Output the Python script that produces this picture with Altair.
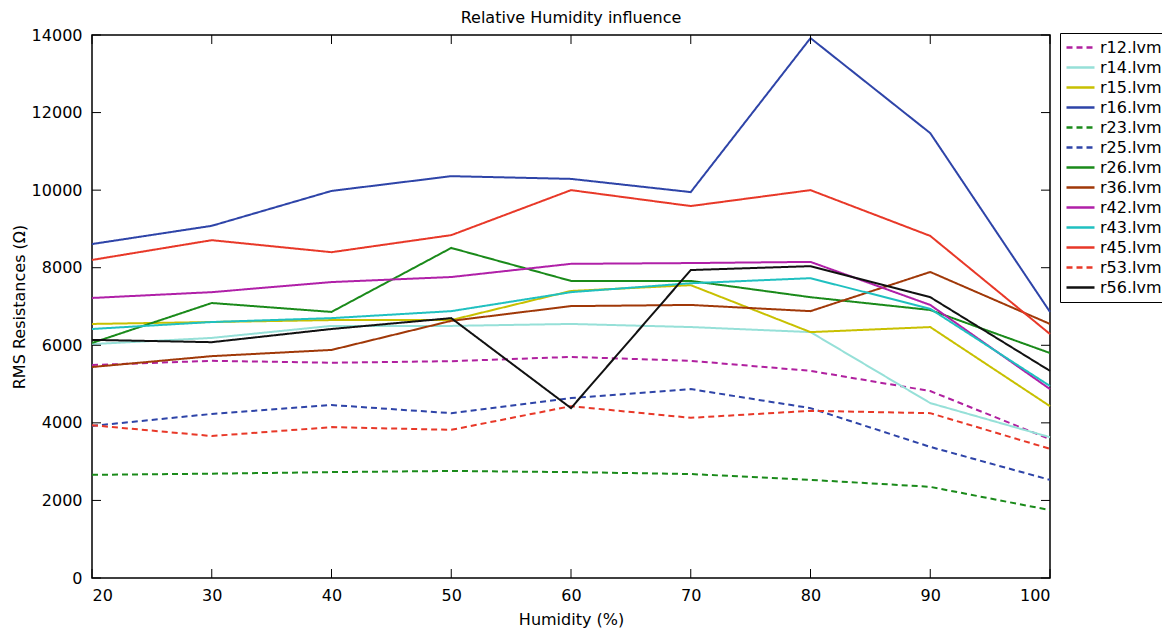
import altair as alt
import pandas as pd

humidity = [20, 30, 40, 50, 60, 70, 80, 90, 100]
series = ["r12.lvm", "r14.lvm", "r15.lvm", "r16.lvm", "r23.lvm", "r25.lvm", "r26.lvm",
          "r36.lvm", "r42.lvm", "r43.lvm", "r45.lvm", "r53.lvm", "r56.lvm"]

r12 = [5490, 5600, 5550, 5590, 5700, 5600, 5340, 4820, 3580]
r14 = [6030, 6190, 6500, 6500, 6550, 6470, 6340, 4510, 3630]
r15 = [6550, 6600, 6650, 6650, 7400, 7550, 6340, 6470, 4430]
r16 = [8610, 9080, 9980, 10360, 10290, 9950, 13920, 11470, 6860]
r23 = [2660, 2690, 2730, 2760, 2730, 2680, 2530, 2350, 1750]
r25 = [3920, 4230, 4460, 4250, 4640, 4870, 4380, 3380, 2530]
r26 = [6060, 7090, 6860, 8510, 7660, 7660, 7240, 6910, 5800]
r36 = [5440, 5720, 5880, 6630, 7010, 7040, 6880, 7890, 6550]
r42 = [7220, 7370, 7630, 7760, 8100, 8120, 8150, 7040, 4870]
r43 = [6420, 6600, 6700, 6880, 7370, 7600, 7730, 6940, 4950]
r45 = [8200, 8710, 8400, 8840, 10000, 9590, 10000, 8820, 6290]
r53 = [3940, 3660, 3890, 3820, 4430, 4130, 4310, 4250, 3330]
r56 = [6140, 6080, 6420, 6700, 4380, 7940, 8040, 7240, 5340]

values = [r12, r14, r15, r16, r23, r25, r26, r36, r42, r43, r45, r53, r56]
colors = ["#b0209f", "#96e0d8", "#c8c000", "#2e44a8", "#1a8a1a", "#2e44a8", "#1a8a1a",
          "#a03808", "#b020a8", "#20c0c0", "#e83828", "#e83828", "#111111"]
dashed = [True, False, False, False, True, True, False, False, False, False, False, True, False]

yticks = [0, 2000, 4000, 6000, 8000, 10000, 12000, 14000]
xticks = humidity

rows = []
for name, vals in zip(series, values):
    for h, v in zip(humidity, vals):
        rows.append({"series": name, "humidity": h, "value": v})
df = pd.DataFrame(rows)

W, H = 958, 543
FONT = "DejaVu Sans"
xscale = alt.Scale(domain=[20, 100], nice=False, zero=False)
yscale = alt.Scale(domain=[0, 14000], nice=False)

legend = alt.Legend(title=None, orient="none", legendX=968, legendY=-2,
                    symbolType="M-2,0H2", symbolSize=196, symbolStrokeWidth=2.5,
                    symbolOffset=6,
                    labelFontSize=16, labelFont=FONT, labelColor="black", rowPadding=3,
                    strokeColor="black", padding=6, labelOffset=11)

lines = alt.Chart(df).mark_line(strokeWidth=2).encode(
    x=alt.X("humidity:Q", scale=xscale,
            axis=alt.Axis(values=xticks, format="d", title="Humidity (%)", tickSize=0, domain=False,
                          grid=False, labelPadding=9, titlePadding=8)),
    y=alt.Y("value:Q", scale=yscale,
            axis=alt.Axis(values=yticks, format="d", title="RMS Resistances (Ω)", tickSize=0,
                          domain=False, grid=False, labelPadding=10, titlePadding=4)),
    color=alt.Color("series:N", scale=alt.Scale(domain=series, range=colors), legend=legend),
    strokeDash=alt.StrokeDash("series:N",
                              scale=alt.Scale(domain=series,
                                              range=[[6, 4] if d else [1, 0] for d in dashed]),
                              legend=legend),
)

ydf = pd.DataFrame({"v": yticks})
xdf = pd.DataFrame({"h": xticks})
tick_l = alt.Chart(ydf).mark_rule(color="black", strokeWidth=1).encode(
    y=alt.Y("v:Q", scale=yscale), x=alt.value(0), x2=alt.value(9))
tick_r = alt.Chart(ydf).mark_rule(color="black", strokeWidth=1).encode(
    y=alt.Y("v:Q", scale=yscale), x=alt.value(W - 9), x2=alt.value(W))
tick_b = alt.Chart(xdf).mark_rule(color="black", strokeWidth=1).encode(
    x=alt.X("h:Q", scale=xscale), y=alt.value(H - 9), y2=alt.value(H))
tick_t = alt.Chart(xdf).mark_rule(color="black", strokeWidth=1).encode(
    x=alt.X("h:Q", scale=xscale), y=alt.value(0), y2=alt.value(9))

chart = alt.layer(lines, tick_l, tick_r, tick_b, tick_t).properties(
    width=W, height=H,
    background="white",
    title=alt.TitleParams("Relative Humidity influence", fontSize=16, fontWeight="normal",
                          font=FONT, offset=1, color="black"),
    autosize=alt.AutoSizeParams(type="none"),
    padding={"left": 92, "top": 35, "right": 112, "bottom": 54},
).configure_view(stroke="black", strokeWidth=1.5).configure_axis(
    labelFont=FONT, titleFont=FONT, labelFontSize=16, titleFontSize=16,
    labelColor="black", titleColor="black", titleFontWeight="normal"
)

chart.save("out.html", embed_options={"renderer": "svg", "actions": False})
